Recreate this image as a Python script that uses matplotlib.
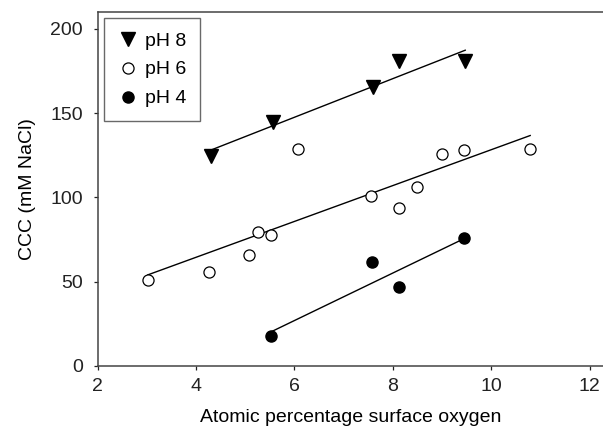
import numpy as np
import matplotlib
matplotlib.use("Agg")
import matplotlib.pyplot as plt

plt.rcParams['font.family'] = ['Liberation Sans', 'DejaVu Sans']

# data
ph8_x = [4.30, 5.56, 7.59, 8.13, 9.47]
ph8_y = [124.5, 144.5, 165.5, 180.7, 180.7]

ph6_x = [3.02, 4.27, 5.08, 5.25, 5.53, 6.08, 7.56, 8.12, 8.49, 8.99, 9.45, 10.79]
ph6_y = [50.8, 55.7, 65.8, 79.7, 77.9, 128.8, 100.9, 94.0, 106.0, 125.9, 128.0, 128.8]

ph4_x = [5.53, 7.57, 8.12, 9.45]
ph4_y = [17.7, 61.6, 46.8, 75.7]

x_ticks = [2, 4, 6, 8, 10, 12]
y_ticks = [0, 50, 100, 150, 200]

fs = 14

fig = plt.figure(figsize=(6.03, 4.33), dpi=100)
ax = fig.add_axes([0.162, 0.155, 0.838, 0.817])

def fit_line(x, y):
    # least-squares line drawn between the smallest and largest x
    k, b = np.polyfit(x, y, 1)
    xs = np.array([min(x), max(x)])
    ax.plot(xs, k * xs + b, color='black', lw=1.0, zorder=2)

fit_line(ph8_x, ph8_y)
fit_line(ph6_x, ph6_y)
fit_line(ph4_x, ph4_y)

ax.plot(ph8_x, ph8_y, 'v', ms=10.5, color='black', ls='none', label='pH 8', zorder=3)
ax.plot(ph6_x, ph6_y, 'o', ms=8, mfc='white', mec='black', mew=0.9, ls='none', label='pH 6', zorder=3)
ax.plot(ph4_x, ph4_y, 'o', ms=8, color='black', ls='none', label='pH 4', zorder=3)

ax.set_xlim(2, 12.27)
ax.set_ylim(0, 210)
ax.set_xticks(x_ticks)
ax.set_yticks(y_ticks)
ax.tick_params(direction='out', length=3, width=0.9, labelsize=fs, colors='#222222')
ax.tick_params(axis='x', pad=6)
ax.tick_params(axis='y', pad=7.5)

ax.spines['right'].set_visible(False)
for s in ['left', 'bottom', 'top']:
    ax.spines[s].set_color('#444444')
    ax.spines[s].set_linewidth(1.1)

ax.set_xlabel('Atomic percentage surface oxygen', fontsize=fs)
ax.set_ylabel('CCC (mM NaCl)', fontsize=fs)
ax.xaxis.set_label_coords(0.5, -0.122)
ax.yaxis.set_label_coords(-0.122, 0.5)

leg = ax.legend(loc='upper left', fontsize=fs, frameon=True, fancybox=False,
                edgecolor='#444444', handlelength=1.03, handletextpad=0.38,
                labelspacing=0.58, borderaxespad=0.3, borderpad=0.72)
leg.get_frame().set_linewidth(1.0)

fig.savefig('out.png', dpi=100)
